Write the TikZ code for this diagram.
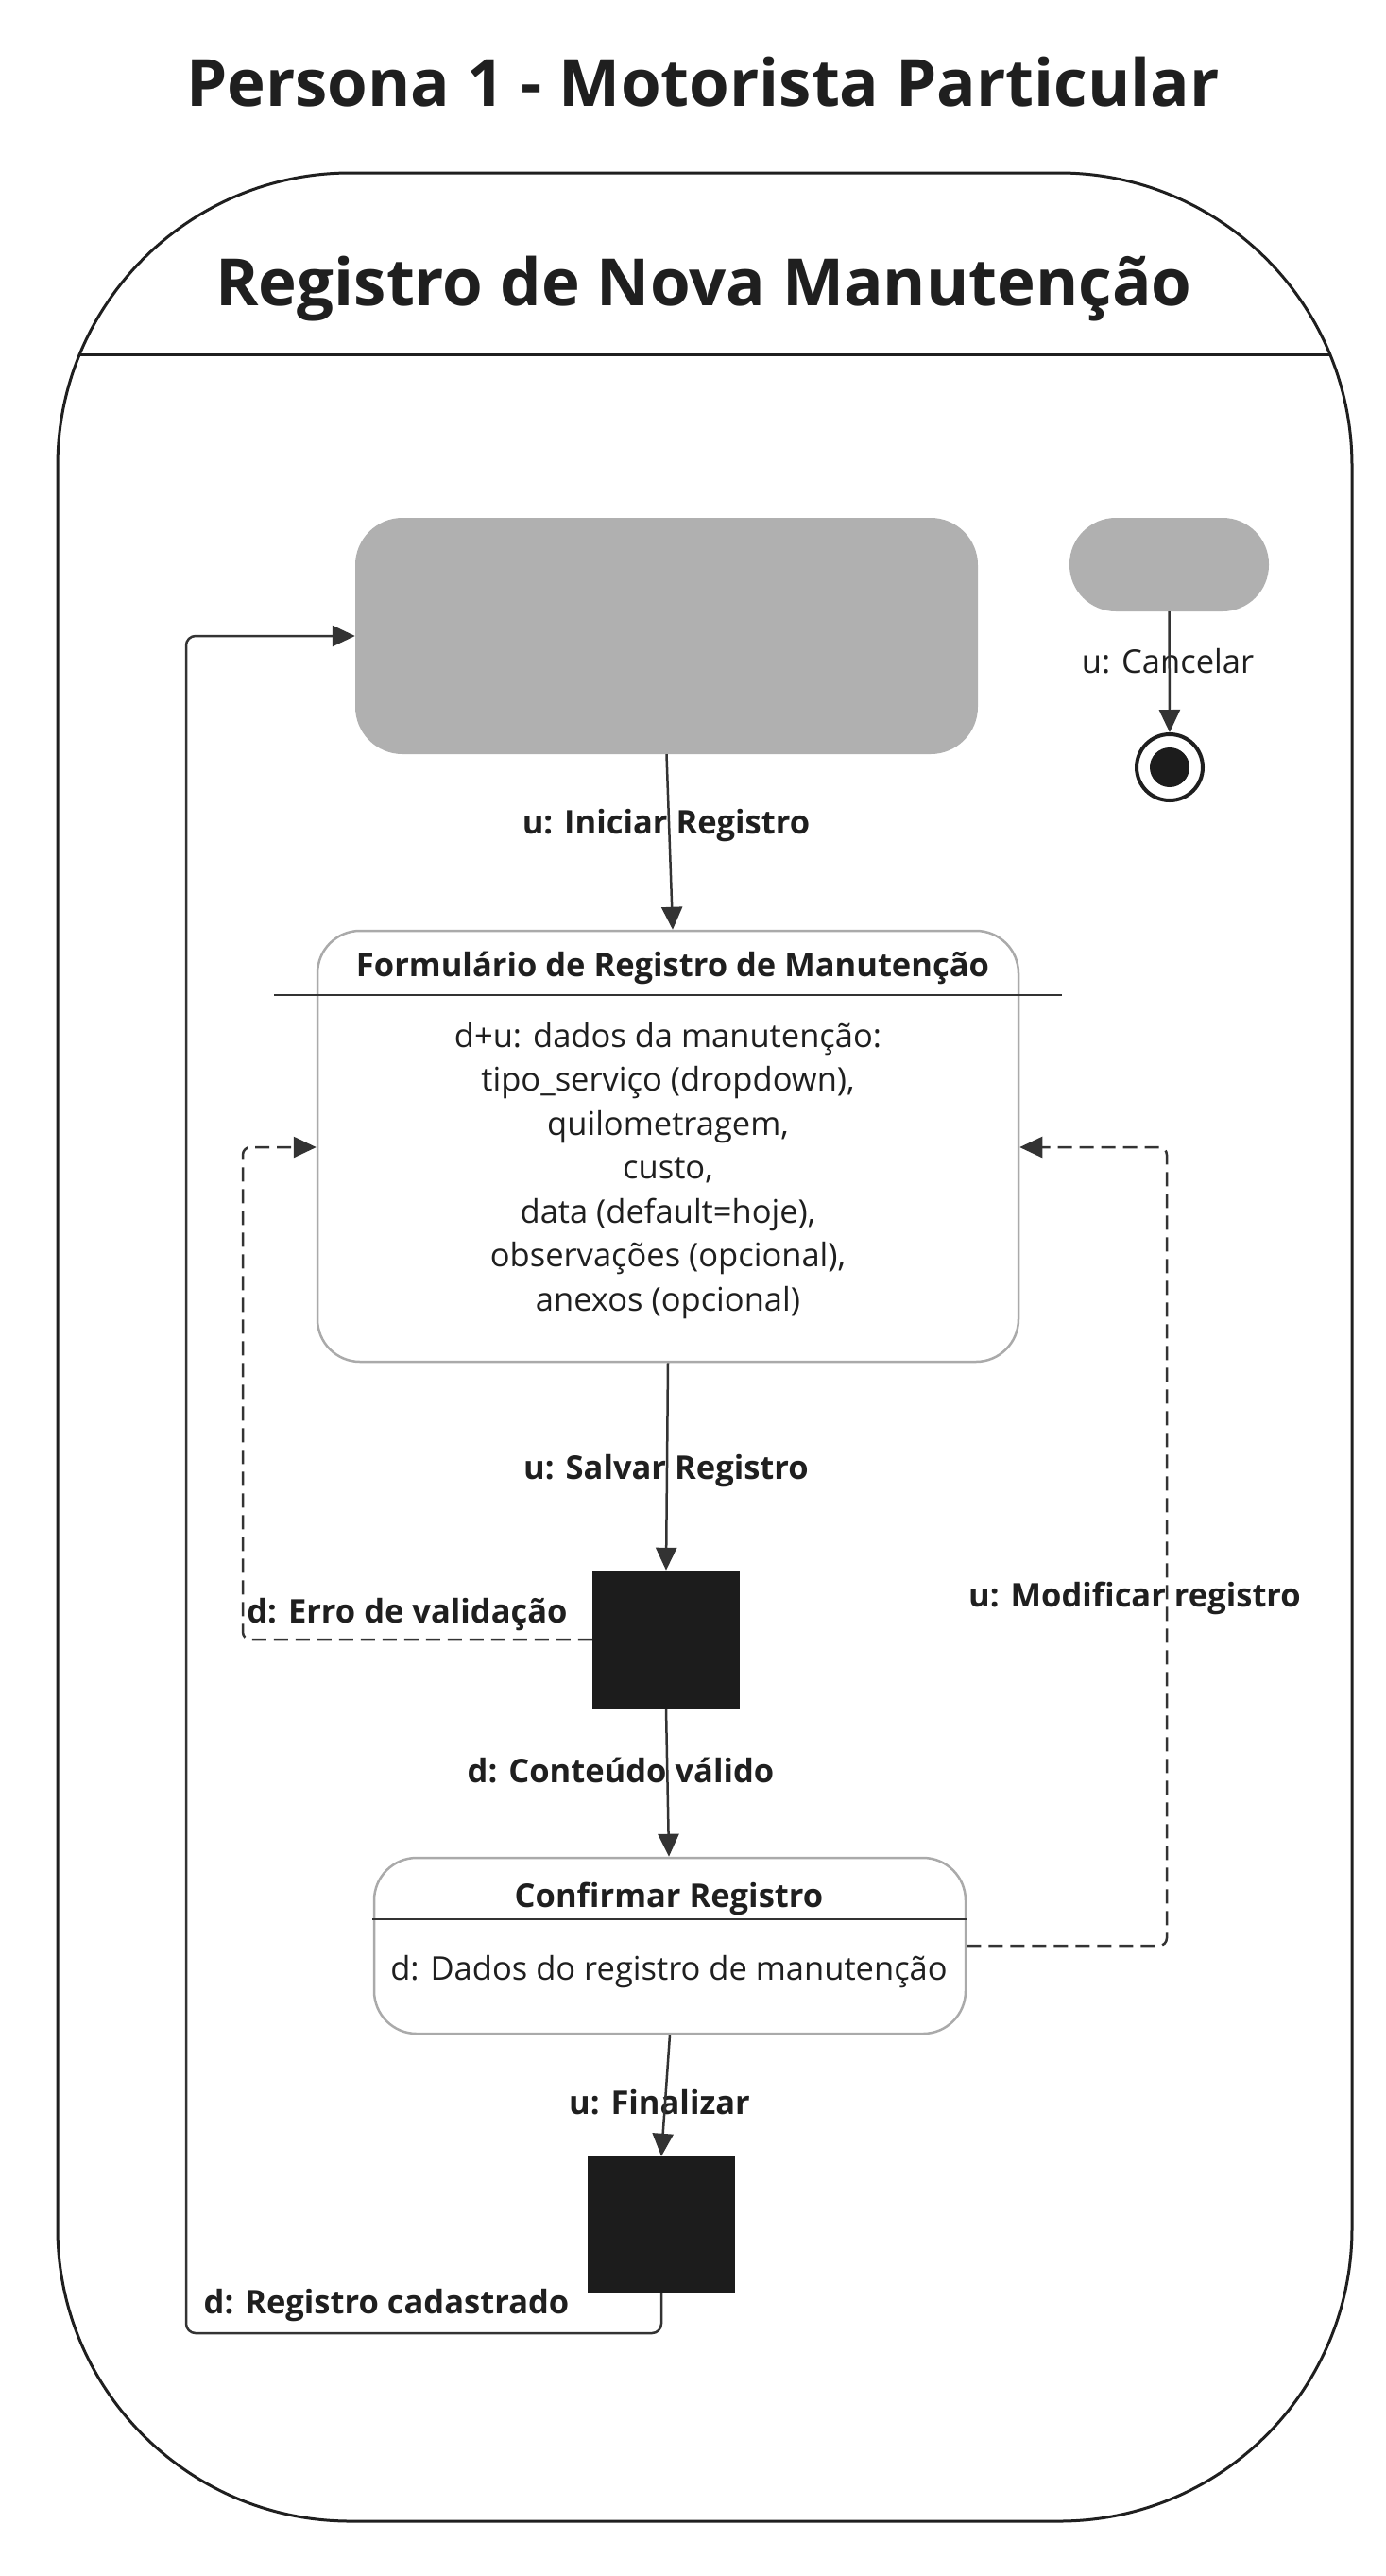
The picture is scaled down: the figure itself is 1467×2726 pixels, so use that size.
\documentclass[tikz,border=0pt]{standalone}
\usepackage{fontspec}
\setmainfont{Open Sans}
\usetikzlibrary{arrows.meta}
\definecolor{ink}{HTML}{1F1F1F}
\definecolor{edgecol}{HTML}{333333}
\definecolor{grayfill}{HTML}{B0B0B0}
\definecolor{boxline}{HTML}{AAAAAA}
\definecolor{solidfill}{HTML}{1C1C1C}
\begin{document}
\begin{tikzpicture}[x=1pt,y=-1pt,
  bigtitle/.style={font=\fontsize{69}{83}\selectfont\bfseries, text=ink, inner sep=0pt, anchor=base},
  lbl/.style={font=\fontsize{34.5}{46}\selectfont\bfseries, text=ink, inner sep=0pt, anchor=base},
  txt/.style={font=\fontsize{34.5}{46}\selectfont, text=ink, inner sep=0pt, anchor=base},
  graybox/.style={fill=grayfill, draw=none, rounded corners=50pt, inner sep=0pt},
  statebox/.style={draw=boxline, line width=2.5pt, fill=white, rounded corners=45pt, inner sep=0pt},
  blackbox/.style={fill=solidfill, draw=none, inner sep=0pt},
  arr/.style={draw=edgecol, line width=2.5pt, -{Triangle[length=24pt,width=22pt]}},
  dasharr/.style={arr, dash pattern=on 15pt off 8pt},
  rule/.style={draw=edgecol, line width=2.5pt}
]
\useasboundingbox[fill=white] (0,0) rectangle (1467,2726);

% titles and frame
\node[bigtitle] (title) at (744,112) {Persona 1 - Motorista Particular};
\node[draw=ink, line width=3pt, rounded corners=310pt, minimum width=1370pt, minimum height=2485pt, inner sep=0pt] (frame) at (746,1425.5) {};
\coordinate (hdl) at (84,375);
\coordinate (hdr) at (1408,375);
\draw[draw=ink, line width=3pt] (hdl) -- (hdr);
\node[bigtitle] (header) at (745,323) {Registro de Nova Manutenção};

% states
\node[graybox, minimum width=659pt, minimum height=250pt] (start) at (705.5,673) {};
\node[graybox, rounded corners=49pt, minimum width=211pt, minimum height=99pt] (pill) at (1237.5,597.5) {};
\node[circle, draw=ink, fill=white, line width=4pt, minimum size=70pt, inner sep=0pt] (final) at (1238,812) {};
\node[circle, fill=solidfill, minimum size=42pt, inner sep=0pt] (finaldot) at (final.center) {};

\node[statebox, minimum width=742pt, minimum height=456pt] (form) at (707,1213) {};
\node[lbl] (formtitle) at (712,1033) {Formulário de Registro de Manutenção};
\coordinate (fl) at (290,1053);
\coordinate (fr) at (1124,1053);
\draw[rule] (fl) -- (fr);
\foreach \t [count=\i] in {{d+u: dados da manutenção:},{tipo\_serviço (dropdown),},{quilometragem,},{custo,},{data (default=hoje),},{observações (opcional),},{anexos (opcional)}}
  \node[txt] (fline\i) at (707,{1108+(\i-1)*46.5}) {\t};

\node[blackbox, minimum width=156pt, minimum height=146pt] (choice1) at (705,1735) {};

\node[statebox, minimum width=626pt, minimum height=186pt] (confirm) at (709,2059) {};
\node[lbl] (conftitle) at (708,2018) {Confirmar Registro};
\coordinate (cl) at (394,2031);
\coordinate (cr) at (1024,2031);
\draw[rule] (cl) -- (cr);
\node[txt] (confbody) at (708,2095) {d: Dados do registro de manutenção};

\node[blackbox, minimum width=156pt, minimum height=144pt] (choice2) at (700,2354) {};

% labels
\node[txt] (lcancel) at (1236,712) {u: Cancelar};
\node[lbl] (liniciar) at (705,882) {u: Iniciar Registro};
\node[lbl] (lsalvar) at (705,1565) {u: Salvar Registro};
\node[lbl] (lerro) at (431,1717) {d: Erro de validação};
\node[lbl] (lmod) at (1201,1700) {u: Modificar registro};
\node[lbl] (lvalido) at (657,1886) {d: Conteúdo válido};
\node[lbl] (lfinal) at (698,2237) {u: Finalizar};
\node[lbl] (lcad) at (409,2448) {d: Registro cadastrado};

% connectors
\draw[arr] (pill.south) -- (final.north);
\draw[arr] (start.south) -- ([xshift=5pt]form.north);
\draw[arr] (form.south) -- (choice1.north);
\coordinate (errc) at (257,1214);
\draw[dasharr, rounded corners=8pt] (choice1.west) -| (errc) -- (form.west |- errc);
\coordinate (modc) at (1235,1214);
\draw[dasharr, rounded corners=8pt] (confirm.east) -| (modc) -- (form.east |- modc);
\draw[arr] (choice1.south) -- ([xshift=-1pt]confirm.north);
\draw[arr] (confirm.south) -- (choice2.north);
\coordinate (regc) at (197,2469);
\draw[arr, rounded corners=10pt] (choice2.south) |- (regc) |- (start.west);
\end{tikzpicture}
\end{document}
